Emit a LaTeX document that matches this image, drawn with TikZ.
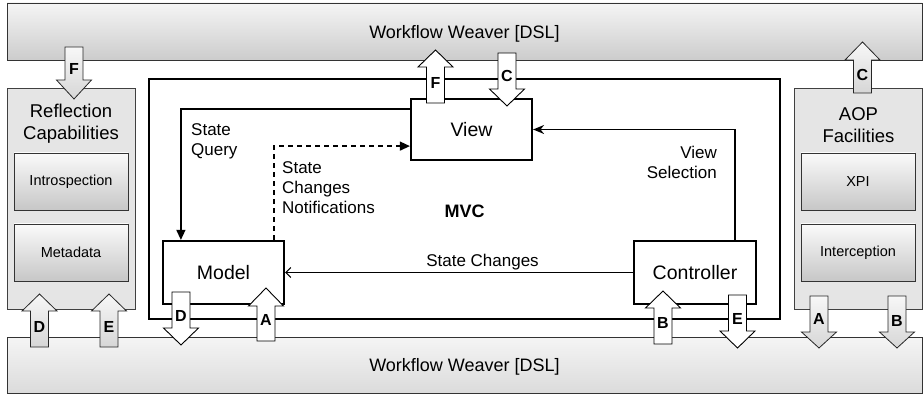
\documentclass[tikz,border=0pt]{standalone}
\usepackage{fontspec}
\setmainfont{Liberation Sans}
\usetikzlibrary{arrows.meta,shadows}
\newcommand\blockarr[8]{%
  \draw[#1] ({#2-9},#3) -- ({#2+9},#3) -- ({#2+9},#4) -- ({#2+17.5},#4) -- (#2,#5)
    -- ({#2-17.5},#4) -- ({#2-9},#4) -- cycle;
  \node[letter] (#6) at (#2,#7) {#8};}
\begin{document}
\begin{tikzpicture}[x=1pt,y=-1pt,
  bar/.style={draw=black!80, line width=0.8pt, inner sep=0, text depth=0pt,
    font=\fontsize{18}{22}\selectfont},
  topbar/.style={bar, top color=black!4, bottom color=black!20},
  botbar/.style={bar, top color=black!4, bottom color=black!14},
  panel/.style={draw=black!75, line width=0.8pt, fill=black!10, inner sep=0},
  innerbox/.style={draw=black!80, line width=0.9pt, top color=black!2, bottom color=black!22,
    inner sep=0, font=\fontsize{14.5}{17}\selectfont,
    drop shadow={opacity=0.3, shadow xshift=1.2pt, shadow yshift=-1.2pt}},
  frame/.style={draw, line width=1.3pt, inner sep=0},
  comp/.style={draw, line width=2.2pt, fill=white, inner sep=0, font=\fontsize{19.5}{22}\selectfont},
  conn/.style={line width=1.3pt},
  lbl/.style={font=\fontsize{17}{20}\selectfont, inner sep=0},
  ptitle/.style={font=\fontsize{18.5}{22}\selectfont, inner sep=0, align=center, anchor=north},
  letter/.style={font=\fontsize{16}{18}\bfseries\selectfont, inner sep=0},
  grayarr/.style={draw=black!85, line width=0.8pt, top color=black!3, bottom color=black!16},
  whitearr/.style={draw=black, line width=0.9pt, fill=white}
]
\useasboundingbox (0,0) rectangle (923,395);

% bars
\node[topbar, minimum width=915pt, minimum height=57pt] (top) at (464.5,31.5) {Workflow Weaver [DSL]};
\node[botbar, minimum width=915pt, minimum height=56pt] (bot) at (464.5,365) {Workflow Weaver [DSL]};

% side panels
\node[panel, minimum width=128pt, minimum height=221pt] (refl) at (71,198.5) {};
\node[panel, minimum width=128pt, minimum height=221pt] (aop) at (858,198.5) {};
\node[ptitle] (refltitle) at (71,104) {Reflection\\Capabilities};
\node[ptitle] (aoptitle) at (858.5,107) {AOP\\Facilities};
\node[innerbox, minimum width=114pt, minimum height=57pt] (intro) at (71,181.5) {Introspection};
\node[innerbox, minimum width=114pt, minimum height=57pt] (meta) at (71,252.5) {Metadata};
\node[innerbox, minimum width=114pt, minimum height=57pt] (xpi) at (858,181.5) {XPI};
\node[innerbox, minimum width=114pt, minimum height=57pt] (icpt) at (858,252.5) {Interception};

% MVC frame
\node[frame, minimum width=631pt, minimum height=240pt] (mvc) at (464.5,199) {};
\node[font=\fontsize{18}{20}\bfseries\selectfont, inner sep=0] (mvclbl) at (464.5,211) {MVC};

% components
\node[comp, minimum width=121pt, minimum height=61pt] (view) at (471.5,129.5) {View};
\node[comp, minimum width=121pt, minimum height=63pt] (model) at (223.5,272.5) {Model};
\node[comp, minimum width=122pt, minimum height=63pt] (ctrl) at (695,272.5) {Controller};

% connectors
\draw[conn, -{Triangle[length=10pt,width=9pt]}] ([yshift=-11pt]view.north west) -| ([xshift=19pt]model.north west);
\draw[conn, dash pattern=on 5pt off 4pt, -{Triangle[length=10pt,width=9pt]}] ([xshift=-11pt]model.north east) |- ([yshift=15pt]view.south west);
\draw[conn, -{Stealth[length=11pt,width=9pt]}] ([xshift=-22pt]ctrl.north east) |- (view.east);
\draw[line width=1pt, -{Straight Barb[length=5pt,width=10pt]}] (ctrl.west) -- (model.east);

% connector labels
\node[lbl, align=left, anchor=north west] (sq) at (191,123) {State\\Query};
\node[lbl, align=left, anchor=north west] (scn) at (282,161) {State\\Changes\\Notifications};
\node[lbl, align=right, anchor=north east] (vs) at (717,146) {View\\Selection};
\node[lbl] (sc) at (482.5,262) {State Changes};

% block arrows
\blockarr{grayarr}{74}{47}{80}{99}{aF}{68.5}{F}
\blockarr{grayarr}{39.5}{347}{311}{294}{aD}{326.5}{D}
\blockarr{grayarr}{109}{347}{311}{294}{aE}{326.5}{E}
\blockarr{whitearr}{435.5}{103}{67}{50}{mF}{82.5}{F}
\blockarr{whitearr}{507}{53}{89}{106}{mC}{76}{C}
\blockarr{grayarr}{862.5}{93}{60}{42}{aC}{74.5}{C}
\blockarr{whitearr}{181}{292}{328}{345}{mD}{315.5}{D}
\blockarr{whitearr}{266}{341}{306}{288}{mA}{320}{A}
\blockarr{whitearr}{663}{344}{308}{291}{mB}{323}{B}
\blockarr{whitearr}{737.5}{295}{331}{348}{mE}{318.5}{E}
\blockarr{grayarr}{819}{296}{332}{348}{aA}{318.5}{A}
\blockarr{grayarr}{897}{296}{332}{348}{aB}{320.5}{B}
\end{tikzpicture}
\end{document}
